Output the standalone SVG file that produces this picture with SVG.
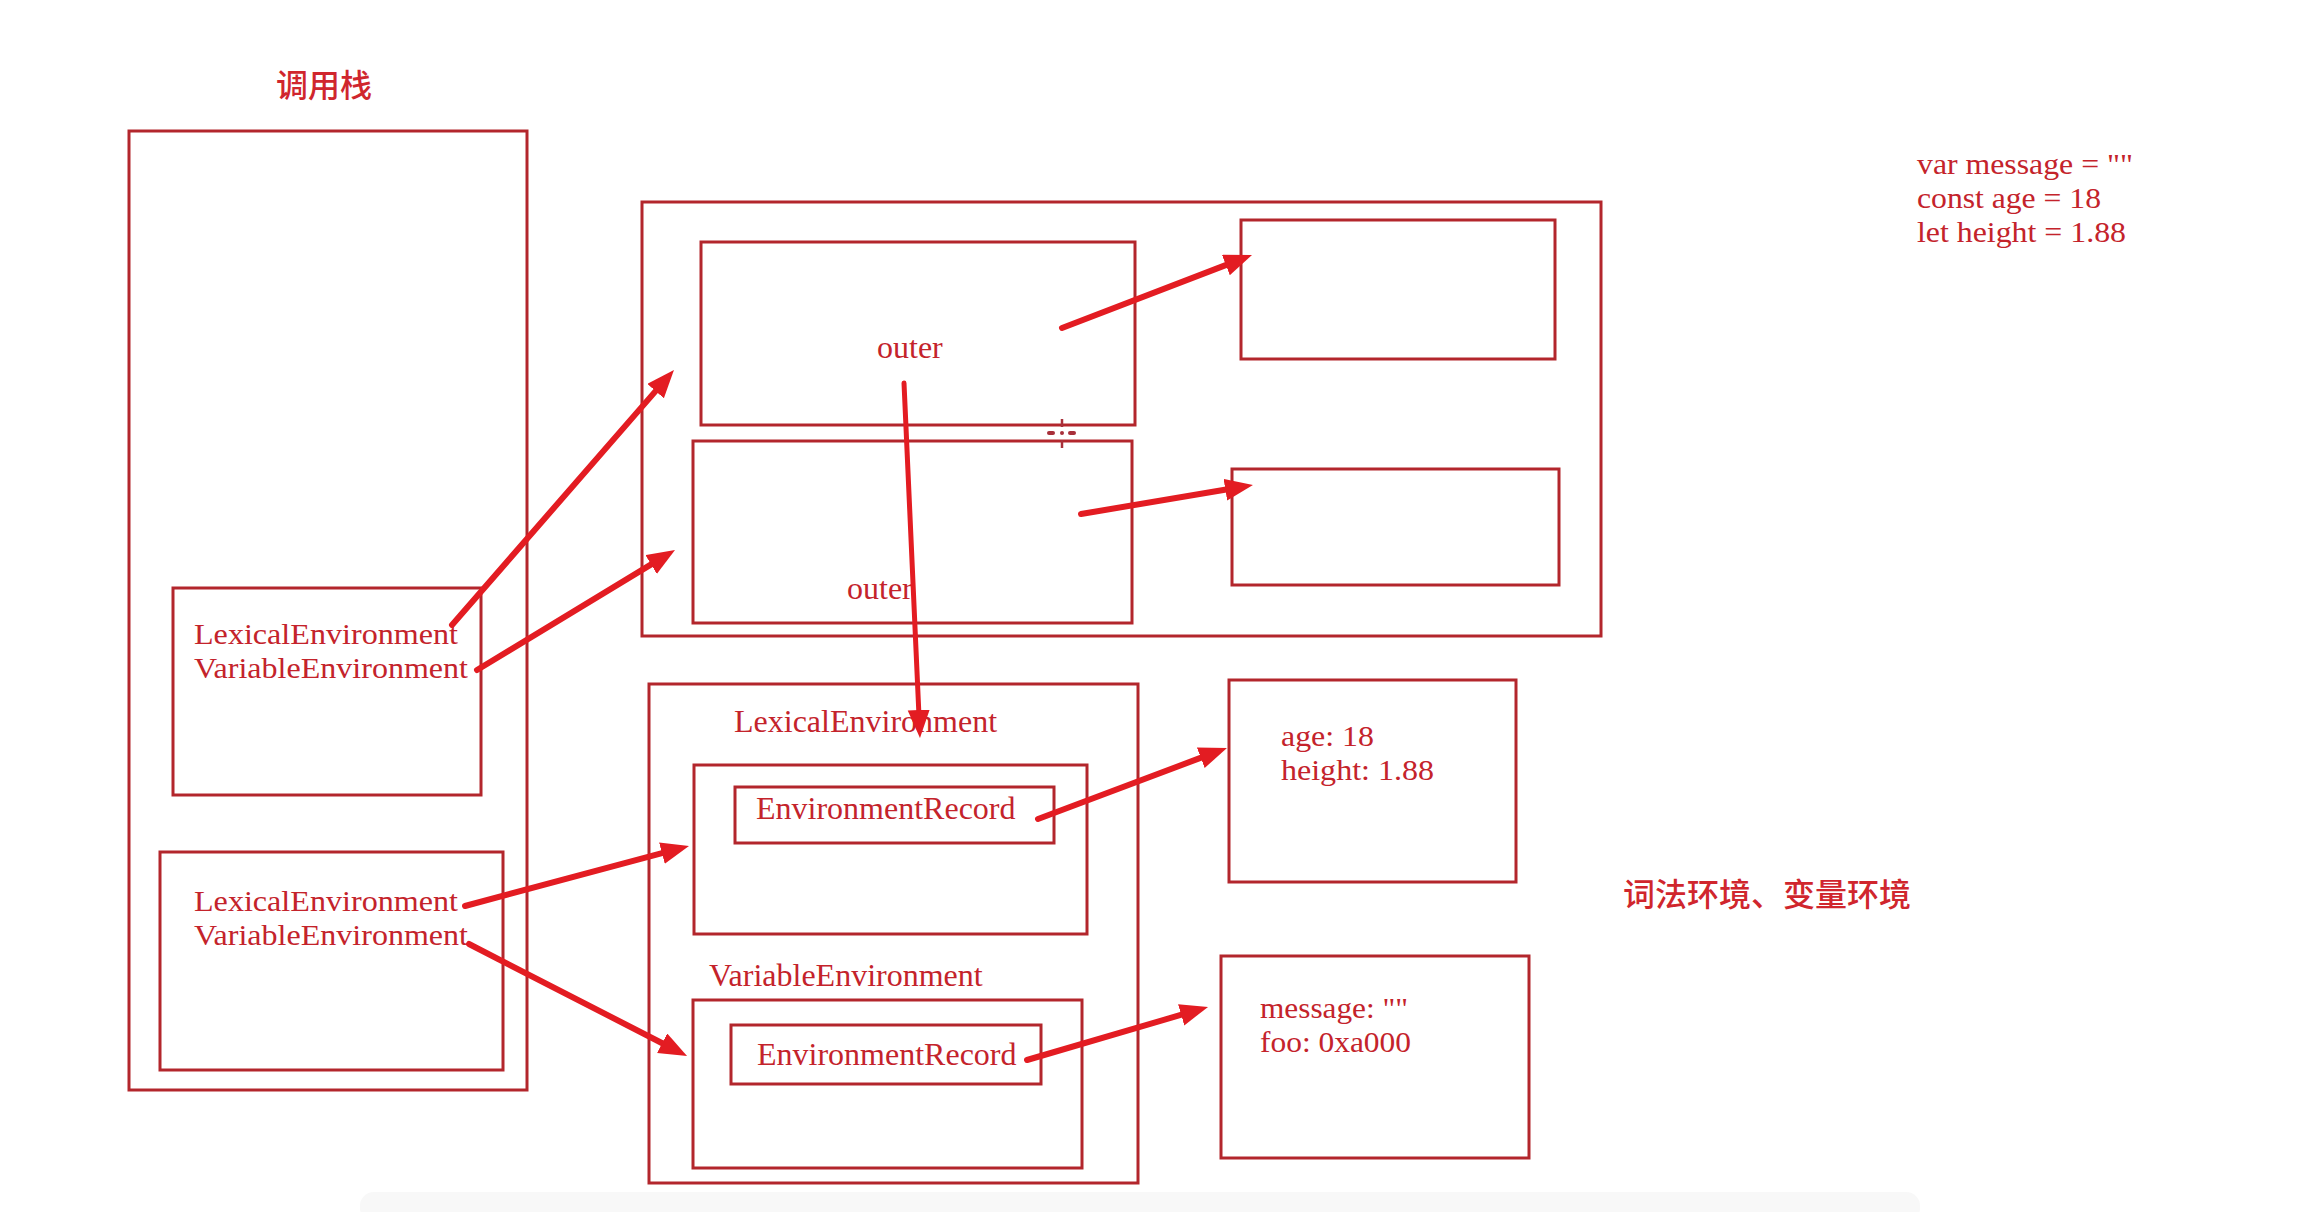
<svg xmlns="http://www.w3.org/2000/svg" width="2300" height="1212" viewBox="0 0 2300 1212">
<style>
.box{fill:none;stroke:#b3262c;stroke-width:3}
.t{font-family:"Liberation Serif","Times New Roman",serif;font-size:32px;fill:#c4232b}
.m{font-size:30px}
.cn{font-family:"Noto Sans CJK SC","Noto Sans",sans-serif;font-size:32px;font-weight:500;fill:#d0262d}
.arr{fill:none;stroke:#e31c22;stroke-width:6;stroke-linecap:round}
</style>
<defs>
<marker id="ah" markerUnits="userSpaceOnUse" markerWidth="30" markerHeight="24" refX="4" refY="11" orient="auto">
<path d="M0,0 L28,11 L0,22 z" fill="#e31c22"/>
</marker>
</defs>
<rect width="2300" height="1212" fill="#ffffff"/>
<rect x="360" y="1192" width="1560" height="30" rx="14" fill="#f8f8f8"/>

<g id="title-callstack"><text class="cn" x="276" y="97">调用栈</text></g>
<g id="callstack"><rect class="box" x="129" y="131" width="398" height="959"/></g>
<g id="ctx1">
<rect class="box" x="173" y="588" width="308" height="207"/>
<text class="t m" x="194" y="644" textLength="264" lengthAdjust="spacingAndGlyphs">LexicalEnvironment</text>
<text class="t m" x="194" y="678" textLength="274" lengthAdjust="spacingAndGlyphs">VariableEnvironment</text>
</g>
<g id="ctx2">
<rect class="box" x="160" y="852" width="343" height="218"/>
<text class="t m" x="194" y="911" textLength="264" lengthAdjust="spacingAndGlyphs">LexicalEnvironment</text>
<text class="t m" x="194" y="945" textLength="274" lengthAdjust="spacingAndGlyphs">VariableEnvironment</text>
</g>

<g id="env-top"><rect class="box" x="642" y="202" width="959" height="434"/></g>
<g id="env-top-le">
<rect class="box" x="701" y="242" width="434" height="183"/>
<text class="t" x="877" y="358">outer</text>
</g>
<g id="env-top-ve">
<rect class="box" x="693" y="441" width="439" height="182"/>
<text class="t" x="847" y="599">outer</text>
</g>
<g id="rec-top1"><rect class="box" x="1241" y="220" width="314" height="139"/></g>
<g id="rec-top2"><rect class="box" x="1232" y="469" width="327" height="116"/></g>

<g id="env-low">
<rect class="box" x="649" y="684" width="489" height="499"/>
<text class="t" x="734" y="732">LexicalEnvironment</text>
<text class="t" x="709" y="986">VariableEnvironment</text>
</g>
<g id="env-low-le">
<rect class="box" x="694" y="765" width="393" height="169"/>
<rect class="box" x="735" y="787" width="319" height="56"/>
<text class="t" x="756" y="819">EnvironmentRecord</text>
</g>
<g id="env-low-ve">
<rect class="box" x="693" y="1000" width="389" height="168"/>
<rect class="box" x="731" y="1025" width="310" height="59"/>
<text class="t" x="757" y="1065">EnvironmentRecord</text>
</g>
<g id="rec-age">
<rect class="box" x="1229" y="680" width="287" height="202"/>
<text class="t m" x="1281" y="746" textLength="93" lengthAdjust="spacingAndGlyphs">age: 18</text>
<text class="t m" x="1281" y="780" textLength="153" lengthAdjust="spacingAndGlyphs">height: 1.88</text>
</g>
<g id="rec-msg">
<rect class="box" x="1221" y="956" width="308" height="202"/>
<text class="t m" x="1260" y="1018" textLength="148" lengthAdjust="spacingAndGlyphs">message: ""</text>
<text class="t m" x="1260" y="1052" textLength="151" lengthAdjust="spacingAndGlyphs">foo: 0xa000</text>
</g>

<g id="code">
<text class="t m" x="1917" y="174" textLength="216" lengthAdjust="spacingAndGlyphs">var message = ""</text>
<text class="t m" x="1917" y="208" textLength="184" lengthAdjust="spacingAndGlyphs">const age = 18</text>
<text class="t m" x="1917" y="242" textLength="209" lengthAdjust="spacingAndGlyphs">let height = 1.88</text>
</g>
<g id="caption"><text class="cn" x="1623" y="906">词法环境、变量环境</text></g>

<g id="cursor" fill="#a8303a" stroke="#a8303a">
<line x1="1062" y1="419" x2="1062" y2="427" stroke-width="2.5"/>
<line x1="1062" y1="440" x2="1062" y2="448" stroke-width="2.5"/>
<rect x="1047" y="431" width="8" height="4" rx="2" stroke="none"/>
<rect x="1060" y="431" width="4" height="4" rx="2" stroke="none"/>
<rect x="1068" y="431" width="8" height="4" rx="2" stroke="none"/>
</g>

<g id="connectors">
<line class="arr" x1="452" y1="625" x2="658.2" y2="388.1" marker-end="url(#ah)"/>
<line class="arr" x1="477" y1="670" x2="654.5" y2="562.4" marker-end="url(#ah)"/>
<line class="arr" x1="465" y1="906" x2="665.8" y2="852.2" marker-end="url(#ah)"/>
<line class="arr" x1="469" y1="944" x2="665.7" y2="1045" marker-end="url(#ah)"/>
<line class="arr" x1="1062" y1="328" x2="1229.6" y2="263.6" marker-end="url(#ah)"/>
<line class="arr" x1="1081" y1="514" x2="1229.3" y2="489" marker-end="url(#ah)"/>
<line class="arr" x1="904" y1="383" x2="918.9" y2="714" marker-end="url(#ah)" style="stroke-width:5"/>
<line class="arr" x1="1038" y1="819" x2="1204.5" y2="756.4" marker-end="url(#ah)"/>
<line class="arr" x1="1027" y1="1060" x2="1185" y2="1013.7" marker-end="url(#ah)"/>
</g>
</svg>
